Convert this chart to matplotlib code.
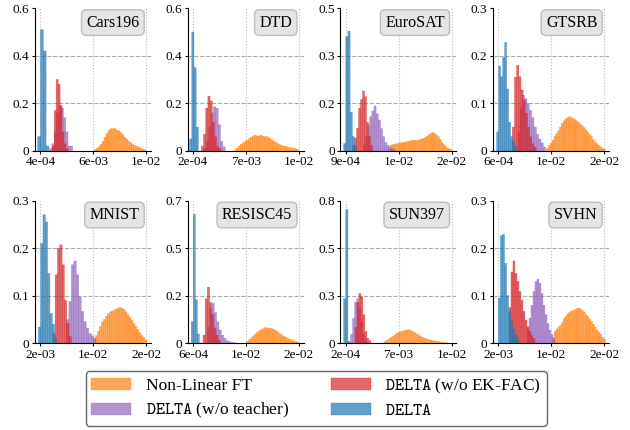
import matplotlib
matplotlib.use("Agg")
import numpy as np
import matplotlib.pyplot as plt

plt.rcParams['font.family'] = 'serif'
plt.rcParams['font.serif'] = ['Liberation Serif', 'DejaVu Serif']
plt.rcParams['mathtext.fontset'] = 'cm'

# ---------------------------------------------------------------
# data
# ---------------------------------------------------------------
datasets = ['Cars196', 'DTD', 'EuroSAT', 'GTSRB',
            'MNIST', 'RESISC45', 'SUN397', 'SVHN']
x_lo = [4e-4, 2e-4, 9e-4, 6e-4, 2e-3, 6e-4, 2e-4, 2e-3]
x_hi = [1.2e-2, 1.4e-2, 1.95e-2, 1.9e-2, 1.8e-2, 1.9e-2, 1.4e-2, 1.8e-2]
y_max = [0.6, 0.6, 0.5, 0.3, 0.3, 0.7, 0.8, 0.3]

# Non-Linear FT
ft_start = [6.29e-3, 5.57e-3, 8.40e-3, 8.99e-3, 1.002e-2, 9.92e-3, 5.16e-3, 1.015e-2]
ft_width = [2.17e-4, 2.62e-4, 3.2e-4, 3.18e-4, 2.99e-4, 3.47e-4, 2.59e-4, 2.77e-4]
ft_heights = [
    [0.005, 0.01, 0.017, 0.028, 0.04, 0.058, 0.072, 0.085, 0.093, 0.094, 0.094, 0.088, 0.085,
     0.078, 0.068, 0.058, 0.05, 0.04, 0.034, 0.028, 0.024, 0.02, 0.017, 0.012, 0.008, 0.005],
    [0.004, 0.012, 0.02, 0.028, 0.034, 0.04, 0.046, 0.052, 0.058, 0.063, 0.066, 0.062, 0.064,
     0.066, 0.062, 0.06, 0.06, 0.054, 0.048, 0.042, 0.037, 0.032, 0.027, 0.024, 0.021, 0.019,
     0.017, 0.015, 0.013, 0.011, 0.009, 0.006],
    [0.012, 0.02, 0.022, 0.023, 0.025, 0.026, 0.028, 0.029, 0.03, 0.031, 0.033, 0.034, 0.036,
     0.037, 0.037, 0.037, 0.038, 0.04, 0.042, 0.044, 0.048, 0.052, 0.058, 0.062, 0.064, 0.061,
     0.056, 0.05, 0.04, 0.03, 0.022, 0.015, 0.01, 0.007, 0.004],
    [0.006, 0.012, 0.016, 0.022, 0.03, 0.036, 0.042, 0.05, 0.058, 0.063, 0.067, 0.07, 0.072,
     0.07, 0.068, 0.066, 0.063, 0.06, 0.056, 0.053, 0.049, 0.045, 0.04, 0.035, 0.03, 0.024,
     0.019, 0.015, 0.012, 0.009, 0.006, 0.004],
    [0.01, 0.016, 0.025, 0.036, 0.045, 0.05, 0.057, 0.062, 0.066, 0.068, 0.069, 0.072, 0.074,
     0.075, 0.074, 0.071, 0.066, 0.06, 0.054, 0.048, 0.041, 0.035, 0.029, 0.022, 0.016, 0.012,
     0.007],
    [0.01, 0.02, 0.028, 0.036, 0.046, 0.055, 0.062, 0.067, 0.072, 0.078, 0.076, 0.074, 0.072,
     0.069, 0.064, 0.057, 0.049, 0.042, 0.036, 0.03, 0.025, 0.021, 0.017, 0.013, 0.009, 0.006],
    [0.008, 0.015, 0.022, 0.03, 0.038, 0.046, 0.055, 0.061, 0.065, 0.068, 0.071, 0.074, 0.075,
     0.072, 0.066, 0.06, 0.054, 0.048, 0.041, 0.034, 0.029, 0.025, 0.021, 0.018, 0.015, 0.013,
     0.011, 0.009, 0.007, 0.005, 0.004, 0.003],
    [0.012, 0.025, 0.03, 0.034, 0.038, 0.044, 0.052, 0.057, 0.062, 0.065, 0.068, 0.069, 0.071,
     0.073, 0.074, 0.072, 0.069, 0.066, 0.06, 0.056, 0.05, 0.046, 0.04, 0.034, 0.028, 0.023,
     0.018, 0.013, 0.009],
]

# DELTA (w/o teacher)
nt_start = [1.41e-3, 1.64e-3, 3.98e-3, 3.96e-3, 5.94e-3, 3.09e-3, 8.47e-4, 6.33e-3]
nt_width = [2.53e-4, 3.06e-4, 3.78e-4, 4.05e-4, 3.74e-4, 4.05e-4, 2.59e-4, 3.02e-4]
nt_heights = [
    [0.01, 0.03, 0.08, 0.16, 0.19, 0.18, 0.14, 0.08, 0.02, 0.02],
    [0.01, 0.04, 0.10, 0.16, 0.185, 0.18, 0.11, 0.04, 0.017],
    [0.02, 0.05, 0.09, 0.12, 0.14, 0.157, 0.13, 0.108, 0.078, 0.05, 0.03, 0.02, 0.012, 0.008, 0.004],
    [0.04, 0.09, 0.117, 0.11, 0.1, 0.085, 0.07, 0.05, 0.035, 0.025, 0.017, 0.008],
    [0.05, 0.088, 0.165, 0.173, 0.144, 0.098, 0.067, 0.046, 0.032, 0.021, 0.016, 0.01],
    [0.08, 0.17, 0.196, 0.15, 0.105, 0.065, 0.04, 0.025, 0.013, 0.008, 0.005, 0.003],
    [0.05, 0.14, 0.23, 0.25, 0.2, 0.12, 0.05, 0.02],
    [0.03, 0.053, 0.08, 0.109, 0.13, 0.135, 0.126, 0.105, 0.08, 0.06, 0.042, 0.028, 0.018, 0.01],
]

# DELTA (w/o EK-FAC)
ne_start = [1.70e-3, 1.29e-3, 2.12e-3, 3.03e-3, 3.89e-3, 2.34e-3, 1.41e-3, 3.61e-3]
ne_width = [2.17e-4, 2.84e-4, 3.49e-4, 3.76e-4, 3.49e-4, 3.76e-4, 2.59e-4, 3.02e-4]
ne_heights = [
    [0.02, 0.17, 0.30, 0.28, 0.19, 0.08, 0.03, 0.01],
    [0.02, 0.07, 0.18, 0.23, 0.21, 0.12, 0.06, 0.02, 0.01],
    [0.02, 0.045, 0.08, 0.15, 0.18, 0.21, 0.19, 0.10, 0.05, 0.02],
    [0.05, 0.155, 0.18, 0.156, 0.128, 0.107, 0.079, 0.05, 0.03, 0.015, 0.008],
    [0.02, 0.144, 0.2, 0.207, 0.165, 0.09, 0.042, 0.014],
    [0.04, 0.218, 0.275, 0.2, 0.14, 0.075, 0.04, 0.016],
    [0.09, 0.23, 0.28, 0.26, 0.16, 0.065, 0.028, 0.015],
    [0.075, 0.15, 0.173, 0.147, 0.13, 0.109, 0.09, 0.067, 0.049, 0.035, 0.025, 0.016, 0.01],
]

# DELTA
dl_start = [1.11e-4, -2.4e-4, 5.5e-4, 3.1e-4, 1.70e-3, 3.1e-4, -5.9e-5, 2.0e-3]
dl_width = [3.07e-4, 2.84e-4, 3.78e-4, 3.47e-4, 3.49e-4, 3.47e-4, 2.8e-4, 3.12e-4]
dl_heights = [
    [0.06, 0.51, 0.42, 0.02],
    [0.05, 0.50, 0.35, 0.10],
    [0.026, 0.40, 0.42, 0.135, 0.05, 0.02],
    [0.04, 0.178, 0.156, 0.196, 0.228, 0.13, 0.06, 0.03, 0.02, 0.01],
    [0.034, 0.21, 0.27, 0.255, 0.147, 0.063, 0.04, 0.01],
    [0.106, 0.633, 0.213, 0.046],
    [0.25, 0.75, 0.01],
    [0.095, 0.226, 0.229, 0.168, 0.1, 0.067, 0.046, 0.03, 0.018, 0.01],
]

labels = ['Non-Linear FT', r'$\mathtt{DELTA}$ (w/o teacher)',
          r'$\mathtt{DELTA}$ (w/o EK-FAC)', r'$\mathtt{DELTA}$']
colors = ['tab:orange', 'tab:purple', 'tab:red', 'tab:blue']

series = [(ft_start, ft_width, ft_heights),
          (nt_start, nt_width, nt_heights),
          (ne_start, ne_width, ne_heights),
          (dl_start, dl_width, dl_heights)]

# ---------------------------------------------------------------
fig, axes = plt.subplots(2, 4, figsize=(6.3, 4.3), dpi=100)
fig.subplots_adjust(left=0.0556, right=0.9667, top=0.981, bottom=0.2016,
                    wspace=0.316, hspace=0.348)

for i, ax in enumerate(axes.flat):
    handles = []
    for (st, wd, hs), c, lab in zip(series, colors, labels):
        h = np.array(hs[i])
        edges = st[i] + wd[i] * np.arange(len(h))
        b = ax.bar(edges, h, width=wd[i], align='edge', color=c, alpha=0.7,
                   edgecolor=c, linewidth=0.3, label=lab)
        for p in b:
            p.set_snap(False)
        handles.append(b)

    lo, hi = x_lo[i], x_hi[i]
    span = hi - lo
    xt = np.linspace(lo, hi, 3)
    ax.set_xlim(lo - 0.05 * span, hi + 0.045 * span)
    ax.set_xticks(xt)
    ax.set_xticklabels(['%.0e' % v for v in xt])

    yt = np.linspace(0, y_max[i], 4)
    ax.set_ylim(0, y_max[i])
    ax.set_yticks(yt)
    ax.set_yticklabels(['0' if v == 0 else '%.1f' % v for v in yt])

    for v in xt:
        ax.axvline(v, color='#bbbbbb', linestyle=':', linewidth=0.8, zorder=0)
    for v in yt[1:-1]:
        ax.axhline(v, color='#aaaaaa', linestyle='--', linewidth=0.8, zorder=0)

    for s in ['top', 'right']:
        ax.spines[s].set_visible(False)
    ax.tick_params(labelsize=9.5, length=2, pad=2)

    ax.text(0.9, 0.955, datasets[i], transform=ax.transAxes, ha='right', va='top',
            fontsize=11.5,
            bbox=dict(boxstyle='round,pad=0.3', facecolor='#e5e5e5', edgecolor='#bdbdbd'))

leg = fig.legend(handles, labels, loc='upper center', bbox_to_anchor=(0.502, 0.137),
                 borderaxespad=0, ncol=2, fontsize=12.5, handlelength=2.3,
                 handletextpad=0.85, columnspacing=2.4, labelspacing=0.42,
                 frameon=True, fancybox=True, edgecolor='0.25', borderpad=0.3)
for lh in leg.legend_handles:
    lh.set_alpha(0.7)

fig.savefig('out.png', dpi=100)
